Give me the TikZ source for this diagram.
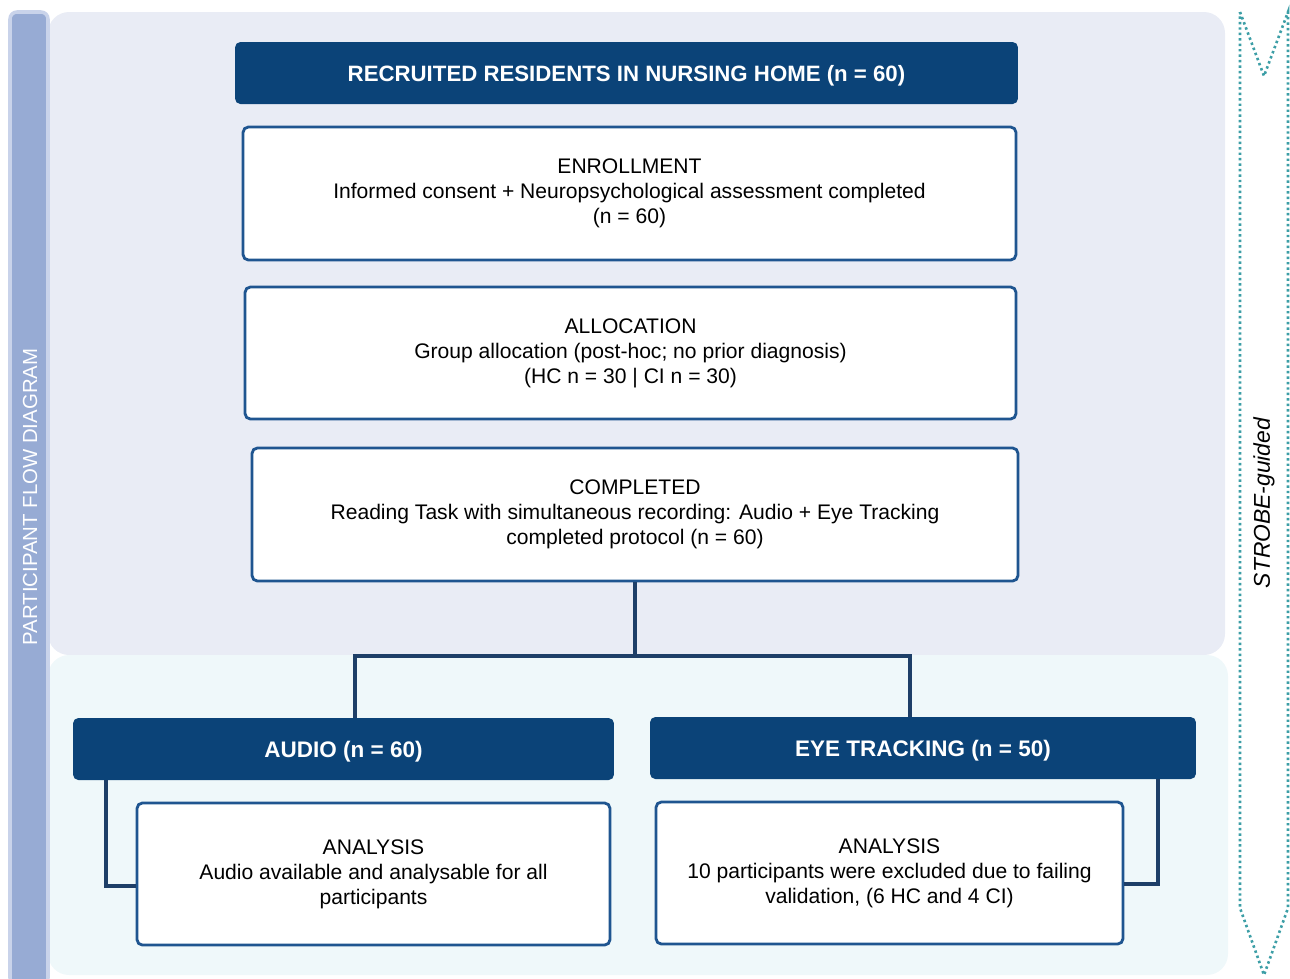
\documentclass[tikz,border=0pt]{standalone}
\usepackage{fontspec}
\setmainfont{Liberation Sans}
\usepackage{xcolor}
\usetikzlibrary{positioning,calc}
\definecolor{navy}{HTML}{0B4378}
\definecolor{boxblue}{HTML}{1F5590}
\definecolor{linkblue}{HTML}{1E3F68}
\definecolor{barfill}{HTML}{97ABD4}
\definecolor{baredge}{HTML}{C9D3EA}
\definecolor{toppanel}{HTML}{E9ECF5}
\definecolor{botpanel}{HTML}{EFF8FA}
\definecolor{strobe}{HTML}{3C9EA6}

\begin{document}
\begin{tikzpicture}[x=0.02cm,y=-0.02cm,
  head/.style={fill=navy,rounded corners=3pt,text=white,inner sep=0pt,text height=9.4pt,text depth=0pt,font=\bfseries\fontsize{12.65}{15}\selectfont},
  box/.style={draw=boxblue,line width=1.6pt,fill=white,rounded corners=3pt,align=center,inner sep=0pt,font=\fontsize{12}{14.2}\selectfont},
  link/.style={draw=linkblue,line width=2.2pt}]
  \useasboundingbox (0,0) rectangle (1290,978);
  % panels and side bar
  \fill[toppanel,rounded corners=12pt] (48,12) rectangle (1225,655);
  \fill[botpanel,rounded corners=12pt] (48,655) rectangle (1228,975);
  \draw[baredge,line width=2pt,fill=barfill,rounded corners=4pt] (10,12) rectangle (48,985);
  \node[rotate=90,text=white,font=\fontsize{11.6}{14}\selectfont] (bartitle) at (30,497) {PARTICIPANT FLOW DIAGRAM};
  \draw[strobe,line width=1.5pt,dash pattern=on 1.4pt off 1.7pt]
    (1240,12) -- (1264,76) -- (1288,12) -- (1288,908) -- (1264,975) -- (1240,908) -- cycle;
  \node[rotate=90,font=\itshape\fontsize{13}{15}\selectfont] (guide) at (1264,503) {STROBE-guided};
  % flow
  \node[head,minimum width=15.66cm,minimum height=1.24cm] (recruit) at (626.5,73) {RECRUITED RESIDENTS IN NURSING HOME (n = 60)};
  \node[box,minimum width=15.46cm,minimum height=2.66cm] (enrol) at (629.5,193.5) {ENROLLMENT\\Informed consent + Neuropsychological assessment completed\\(n = 60)};
  \node[box,minimum width=15.42cm,minimum height=2.64cm] (alloc) at (630.5,353) {ALLOCATION\\Group allocation (post-hoc; no prior diagnosis)\\(HC n = 30 | CI n = 30)};
  \node[box,minimum width=15.32cm,minimum height=2.66cm] (compl) at (635,514.5) {COMPLETED\\Reading Task with simultaneous recording: Audio + Eye Tracking\\completed protocol (n = 60)};
  \node[head,minimum width=10.82cm,minimum height=1.24cm,font=\bfseries\fontsize{12.8}{15}\selectfont] (audio) at (343.5,749) {AUDIO (n = 60)};
  \node[head,minimum width=10.92cm,minimum height=1.24cm,font=\bfseries\fontsize{12.8}{15}\selectfont] (eye) at (923,748) {EYE TRACKING (n = 50)};
  \node[box,minimum width=9.46cm,minimum height=2.84cm] (audan) at (373.5,874) {ANALYSIS\\Audio available and analysable for all\\participants};
  \node[box,minimum width=9.34cm,minimum height=2.84cm] (eyean) at (889.5,873) {ANALYSIS\\10 participants were excluded due to failing\\validation, (6 HC and 4 CI)};
  \coordinate (split) at ($(compl.south)+(0,74)$);
  \draw[link] (compl.south) -- (split);
  \draw[link] (split) -| ($(audio.north)+(11.5,0)$);
  \draw[link] (split) -| ($(eye.north)+(-13,0)$);
  \draw[link] ($(audio.south west)+(33,0)$) |- ($(audan.west)+(0,12)$);
  \draw[link] ($(eye.south east)+(-38,0)$) |- ($(eyean.east)+(0,11)$);
\end{tikzpicture}
\end{document}
